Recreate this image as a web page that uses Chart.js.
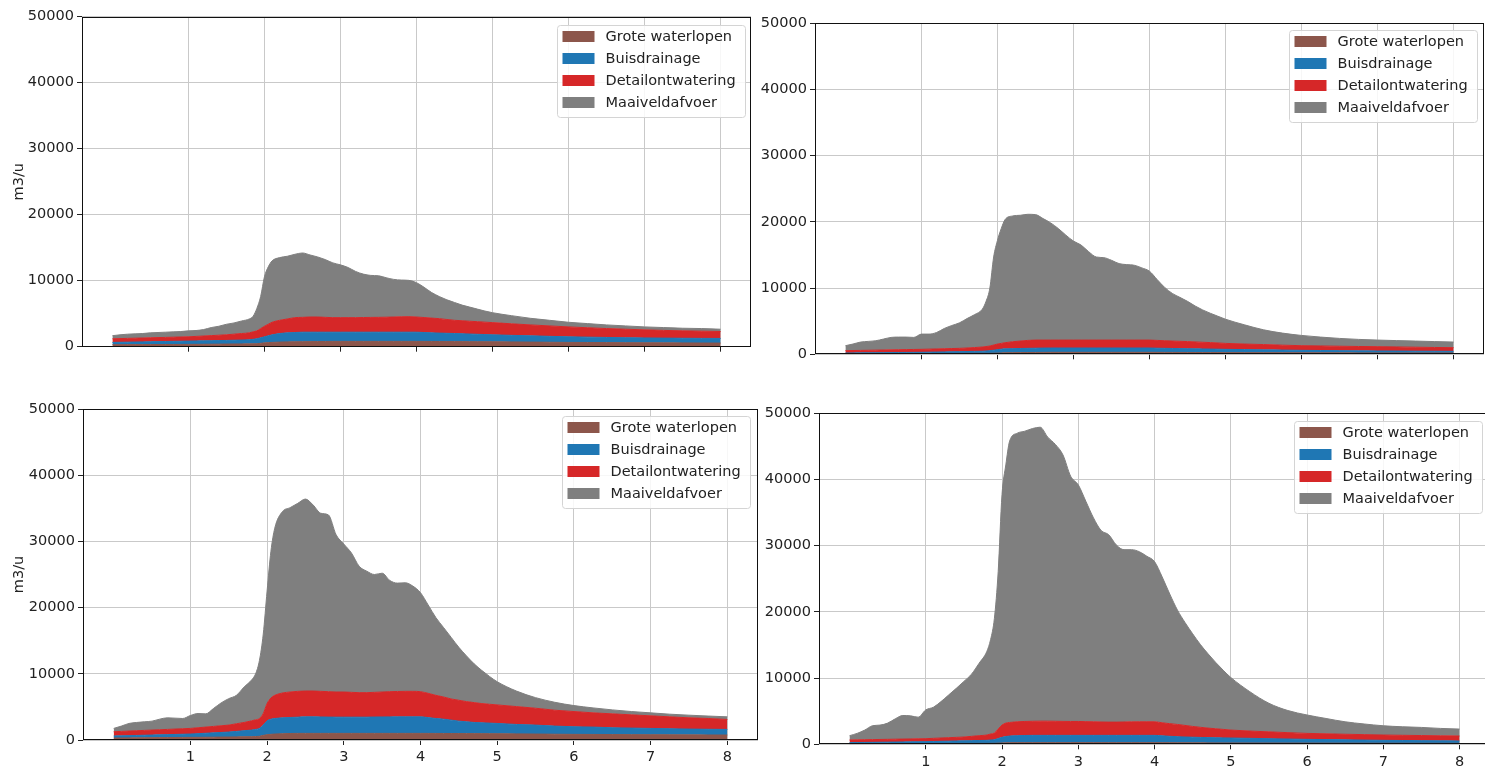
<!DOCTYPE html>
<html>
<head>
<meta charset="utf-8">
<title>Afvoer per component</title>
<script src="https://cdn.jsdelivr.net/npm/chart.js@4.4.1/dist/chart.umd.min.js"></script>
<style>
  html, body { margin: 0; padding: 0; background: #fff; overflow: hidden; }
  canvas { position: absolute; }
</style>
</head>
<body>
<canvas id="p1" width="760" height="380" style="left:0;top:0"></canvas>
<canvas id="p2" width="725" height="380" style="left:760px;top:0"></canvas>
<canvas id="p3" width="760" height="382" style="left:0;top:385px"></canvas>
<canvas id="p4" width="740" height="382" style="left:760px;top:385px"></canvas>
<script>
// time axis (days), shared by all four panels
const days = [0,0.1,0.2,0.3,0.4,0.5,0.6,0.7,0.8,0.9, 1,1.1,1.2,1.3,1.4,1.5,1.6,1.7,1.8,
  1.85,1.9,1.95,2,2.05,2.1, 2.2,2.3,2.4,2.5,2.6,2.7,2.8,2.9, 3,3.1,3.2,3.3,3.4,3.5,3.6,3.7,3.8,3.9,
  4,4.1,4.2,4.3,4.4,4.5,4.6,4.7,4.8,4.9, 5, 5.25,5.5,5.75, 6,6.25,6.5,6.75, 7,7.25,7.5,7.75, 8];

const seriesNames = ['Grote waterlopen', 'Buisdrainage', 'Detailontwatering', 'Maaiveldafvoer'];
const seriesColors = ['#8c564b', '#1f77b4', '#d62728', '#7f7f7f'];
const yTicks = [0, 10000, 20000, 30000, 40000, 50000];
const xTicks = [1, 2, 3, 4, 5, 6, 7, 8];
const yLabel = 'm3/u';

// panel 1 (top left), m3/u per component
const grote1 = [300,305,310,315,320,325,330,335,340,345, 350,360,370,380,390,400,410,420,430,
  440,450,520,580,620,650, 700,730,750,760,770,780,790,800, 800,800,800,800,800,800,800,800,800,800,
  800,795,790,785,780,775,770,765,760,755, 750, 725,700,675, 650,640,625,610, 600,590,575,560, 550];
const buis1 = [350,365,380,395,410,425,440,455,470,485, 500,510,520,530,540,550,570,590,620,
  680,750,830,920,1030,1150, 1300,1370,1400,1440,1430,1420,1410,1400, 1400,1400,1400,1400,1400,1400,1400,1400,1400,1400,
  1400,1355,1310,1275,1250,1225,1190,1155,1120,1085, 1050, 995,950,895, 850,810,775,750, 730,710,705,700, 700];
const detail1 = [550,560,570,580,590,600,610,620,630,640, 650,690,730,770,810,850,920,990,1050,
  1130,1200,1400,1600,1750,1900, 2000,2100,2250,2250,2300,2300,2250,2200, 2200,2200,2200,2220,2240,2250,2270,2300,2330,2350,
  2300,2270,2230,2190,2090,2000,1970,1940,1910,1880, 1850, 1750,1650,1580, 1500,1420,1350,1290, 1220,1170,1120,1090, 1050];
const maaiveld1 = [470,570,640,660,680,750,770,790,810,830, 900,890,980,1220,1360,1600,1700,1900,2100,
  2350,3400,4850,7500,8700,9300, 9500,9500,9600,9750,9400,9100,8750,8300, 8000,7600,7000,6580,6360,6300,5980,5700,5570,5500,
  5200,4580,3870,3350,2980,2700,2370,2140,1910,1680, 1500, 1230,1000,850, 700,630,550,500, 450,430,400,400, 350];

// panel 2 (top right)
const grote2 = [100,100,105,105,110,110,115,115,120,120, 125,125,130,130,135,135,140,140,145,
  145,150,170,190,210,230, 250,260,270,280,290,300,300,300, 300,300,300,300,300,300,300,300,300,300,
  300,295,290,285,280,275,270,265,260,255, 250, 245,240,235, 230,225,220,215, 210,210,205,200, 200];
const buis2 = [100,110,115,125,130,140,145,155,160,170, 175,195,210,230,245,265,280,300,315,
  355,400,450,510,570,590, 600,620,630,640,650,650,650,650, 650,650,650,650,650,650,650,650,650,650,
  650,625,610,595,580,575,560,545,530,515, 500, 465,430,405, 370,345,330,305, 290,280,265,260, 250];
const detail2 = [350,360,370,380,390,400,410,420,430,440, 450,460,470,480,490,500,530,580,640,
  670,700,780,850,870,930, 1050,1120,1200,1230,1210,1200,1200,1200, 1200,1200,1200,1200,1200,1200,1200,1200,1200,1200,
  1200,1180,1150,1120,1100,1070,1040,1010,980,940, 900, 840,800,740, 700,690,670,660, 650,620,600,570, 550];
const maaiveld2 = [750,980,1260,1340,1420,1650,1880,1910,1890,1820, 2300,2270,2490,3060,3480,3850,4450,4980,5700,
  6830,8750,13300,15650,17350,18600, 19000,19000,19050,18950,18350,17700,16850,15850, 14950,14350,13350,12550,12450,12050,11550,11400,11300,10900,
  10400,9200,8050,7200,6640,6080,5430,4880,4430,4040, 3650, 2900,2230,1820, 1550,1340,1180,1070, 1000,960,930,890, 850];

// panel 3 (bottom left)
const grote3 = [300,310,320,330,340,350,360,370,380,390, 400,410,420,430,440,450,470,490,500,
  520,560,700,800,860,900, 950,980,1000,1000,1000,1000,1000,1000, 1000,1000,1000,1000,1000,1000,1000,1000,1000,1000,
  1000,995,990,985,980,975,970,965,960,955, 950, 925,900,875, 850,840,825,810, 800,790,775,760, 750];
const buis3 = [300,320,340,360,380,400,420,440,460,480, 500,550,600,650,700,750,830,910,1000,
  1080,1190,1550,2100,2290,2350, 2400,2420,2450,2500,2500,2480,2460,2450, 2450,2450,2450,2450,2470,2480,2490,2500,2500,2500,
  2500,2385,2260,2165,2020,1875,1780,1685,1640,1595, 1550, 1425,1350,1225, 1150,1110,1025,990, 950,910,875,860, 850];
const detail3 = [650,670,690,710,730,750,770,790,810,830, 850,890,930,970,1010,1050,1150,1250,1400,
  1450,1500,1750,2600,3200,3500, 3750,3850,3900,3900,3900,3870,3840,3800, 3800,3750,3700,3700,3730,3770,3810,3830,3850,3850,
  3800,3670,3500,3350,3200,3150,3050,3000,2900,2850, 2800, 2700,2550,2400, 2300,2150,2100,2000, 1900,1800,1700,1630, 1500];
const maaiveld3 = [500,800,1150,1250,1300,1350,1600,1750,1650,1550, 1950,2150,2000,2700,3450,4000,4300,5350,6200,
  6950,8750,12000,17000,22150,25250, 27400,27850,28400,29000,28100,26900,26700,23750, 22350,21050,19100,18350,17800,17950,16800,16370,16400,15900,
  14950,13350,11750,10500,9300,8000,6900,5850,5000,4200, 3500, 2350,1600,1200, 900,750,600,500, 450,400,400,370, 400];

// panel 4 (bottom right)
const grote4 = [80,85,90,95,100,100,105,110,115,120, 120,125,125,130,130,135,135,140,140,
  145,150,180,200,220,240, 250,250,250,250,250,250,250,250, 250,250,250,250,250,250,250,250,250,250,
  250,245,240,235,230,225,220,215,210,205, 200, 195,190,185, 180,175,170,165, 160,160,155,150, 150];
const buis4 = [170,180,190,200,210,225,235,245,255,265, 280,300,325,345,370,390,415,435,460,
  505,550,690,850,950,1010, 1050,1080,1100,1100,1100,1100,1100,1100, 1100,1100,1100,1100,1100,1100,1100,1100,1100,1100,
  1100,1035,970,915,870,845,820,795,780,765, 750, 705,660,615, 570,535,510,475, 440,415,395,375, 350];
const detail4 = [400,405,410,415,420,425,430,435,440,445, 450,475,500,525,550,575,650,725,800,
  900,1000,1430,1850,2030,2050, 2100,2120,2130,2150,2150,2130,2110,2100, 2100,2070,2050,2020,2000,2000,2020,2040,2050,2050,
  2050,1970,1910,1850,1750,1630,1530,1440,1360,1280, 1200, 1100,1030,960, 900,870,840,820, 800,785,770,755, 750];
const maaiveld4 = [650,980,1460,2090,2170,2450,3080,3560,3490,3270, 4350,4700,5500,6450,7400,8400,9400,10950,12600,
  14250,17300,23800,34800,39000,42500, 43600,43850,44220,44400,42900,41820,40240,37050, 35750,33280,30800,28930,28300,26750,26030,26010,25700,25000,
  24200,22050,19580,17300,15550,14000,12530,11250,10050,8950, 7950, 5950,4320,3340, 2780,2320,1880,1610, 1400,1290,1230,1120, 1050];

const FONT = { family: '"DejaVu Sans", sans-serif', size: 14.5 };
const TEXT = '#222';
const GRID = '#c9c9c9';

// frame around the plot area, drawn over the areas like matplotlib spines
const framePlugin = {
  id: 'frame',
  afterDatasetsDraw(chart) {
    const { ctx, chartArea: a } = chart;
    ctx.save();
    ctx.strokeStyle = '#111';
    ctx.lineWidth = 1;
    const l = Math.round(a.left) + 0.5, t = Math.round(a.top) + 0.5;
    const r = Math.round(a.right) - 0.5, b = Math.round(a.bottom) - 0.5;
    ctx.strokeRect(l, t, r - l, b - t);
    ctx.restore();
  }
};

// matplotlib style legend box in the upper right corner
const boxLegendPlugin = {
  id: 'boxLegend',
  afterDraw(chart, args, opts) {
    const { ctx, chartArea: a } = chart;
    const w = 188, h = 92;
    const x = Math.round(a.right - opts.gapRight - w) + 0.5;
    const y = Math.round(a.top + opts.gapTop) + 0.5;
    ctx.save();
    ctx.beginPath();
    if (ctx.roundRect) ctx.roundRect(x, y, w, h, 3); else ctx.rect(x, y, w, h);
    ctx.fillStyle = 'rgba(255,255,255,0.85)';
    ctx.fill();
    ctx.strokeStyle = '#d4d4d4';
    ctx.lineWidth = 1;
    ctx.stroke();
    ctx.font = FONT.size + 'px ' + FONT.family;
    ctx.textBaseline = 'middle';
    ctx.textAlign = 'left';
    chart.data.datasets.forEach((ds, i) => {
      const cy = y + 11 + i * 22;
      ctx.fillStyle = ds.backgroundColor;
      ctx.fillRect(x + 5, cy - 5.5, 32, 11);
      ctx.fillStyle = TEXT;
      ctx.fillText(ds.label, x + 48, cy + 0.5);
    });
    ctx.restore();
  }
};

const panels = [
  { id: 'p1', series: [grote1, buis1, detail1, maaiveld1], yWidth: 82, xHeight: 20,
    pad: { left: 0, top: 16.7, right: 9, bottom: 13.3 }, xLabels: false, yTitle: true, legend: { gapRight: 6, gapTop: 8 } },
  { id: 'p2', series: [grote2, buis2, detail2, maaiveld2], yWidth: 55, xHeight: 20,
    pad: { left: 0, top: 23.3, right: 1, bottom: 5.7 }, xLabels: false, yTitle: false, legend: { gapRight: 7, gapTop: 7 } },
  { id: 'p3', series: [grote3, buis3, detail3, maaiveld3], yWidth: 83, xHeight: 27,
    pad: { left: 0, top: 24, right: 2, bottom: 0 }, xLabels: true, yTitle: true, legend: { gapRight: 8, gapTop: 7 } },
  { id: 'p4', series: [grote4, buis4, detail4, maaiveld4], yWidth: 59, xHeight: 22.7,
    pad: { left: 0, top: 28.3, right: 10, bottom: 0 }, xLabels: true, yTitle: false, legend: { gapRight: 8, gapTop: 8 } }
];

panels.forEach(p => {
  p.series.forEach((s, i) => {
    if (s.length !== days.length) throw new Error(p.id + ' series ' + i + ' has ' + s.length + ' values, expected ' + days.length);
  });

  new Chart(document.getElementById(p.id), {
    type: 'line',
    data: {
      labels: days,
      datasets: p.series.map((values, i) => ({
        label: seriesNames[i],
        data: values,
        backgroundColor: seriesColors[i],
        borderColor: seriesColors[i],
        borderWidth: 1,
        pointRadius: 0,
        cubicInterpolationMode: 'monotone',
        fill: i === 0 ? 'origin' : '-1'
      }))
    },
    options: {
      responsive: false,
      devicePixelRatio: 1,
      animation: false,
      events: [],
      layout: { padding: p.pad },
      plugins: {
        legend: { display: false },
        tooltip: { enabled: false },
        boxLegend: p.legend
      },
      scales: {
        x: {
          type: 'linear',
          min: -0.4,
          max: 8.4,
          afterBuildTicks: s => { s.ticks = xTicks.map(v => ({ value: v })); },
          afterFit: s => { s.height = p.xHeight; },
          ticks: { display: p.xLabels, font: FONT, color: TEXT, padding: 4, maxRotation: 0, callback: v => String(v) },
          grid: { color: GRID, lineWidth: 1, drawTicks: true, tickLength: 5, tickColor: '#222', tickWidth: 1 },
          border: { display: false }
        },
        y: {
          stacked: true,
          min: 0,
          max: 50000,
          afterBuildTicks: s => { s.ticks = yTicks.map(v => ({ value: v })); },
          afterFit: s => { s.width = p.yWidth; },
          ticks: { font: FONT, color: TEXT, padding: 3, callback: v => String(v) },
          grid: { color: GRID, lineWidth: 1, drawTicks: true, tickLength: 5, tickColor: '#222', tickWidth: 1 },
          border: { display: false },
          title: { display: p.yTitle, text: yLabel, font: FONT, color: TEXT, padding: { top: 11, bottom: 0 } }
        }
      }
    },
    plugins: [framePlugin, boxLegendPlugin]
  });
});
</script>
</body>
</html>
